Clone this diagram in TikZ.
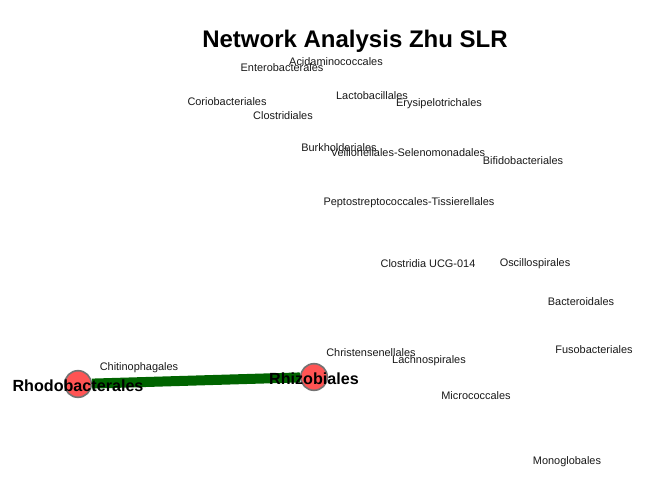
\documentclass[tikz,border=0pt]{standalone}
\usepackage{fontspec}
\setmainfont{Liberation Sans}
\definecolor{vertexred}{HTML}{FF5454}
\definecolor{edgegreen}{HTML}{006400}
\tikzset{
  taxon/.style={inner sep=0pt,font=\fontsize{8.2}{9}\selectfont,text=black!90},
  hub/.style={draw=black!55,line width=1.2pt,fill=vertexred,circle,minimum size=20pt,inner sep=0pt},
  hublabel/.style={inner sep=0pt,font=\fontsize{12.1}{13}\selectfont\bfseries},
}
\begin{document}
\begin{tikzpicture}[x=0.75pt,y=-0.75pt]
\useasboundingbox[fill=white] (0,0) rectangle (672,480);
\node[font=\fontsize{18}{20}\selectfont\bfseries] (title) at (355,41) {Network Analysis Zhu SLR};
% small vertices
\node[taxon] (acid) at (336,62) {Acidaminococcales};
\node[taxon] (entero) at (282,68) {Enterobacterales};
\node[taxon] (corio) at (227,102) {Coriobacteriales};
\node[taxon] (clostr) at (283,116) {Clostridiales};
\node[taxon] (lacto) at (372,96) {Lactobacillales};
\node[taxon] (erysi) at (439,104) {Erysipelotrichales};
\node[taxon] (burk) at (339,148) {Burkholderiales};
\node[taxon] (veil) at (408,153) {Veillonellales-Selenomonadales};
\node[taxon] (bifi) at (523,161) {Bifidobacteriales};
\node[taxon] (pepto) at (409,203) {Peptostreptococcales-Tissierellales};
\node[taxon] (ucg) at (428,264) {Clostridia UCG-014};
\node[taxon] (oscill) at (535,264) {Oscillospirales};
\node[taxon] (bactero) at (581,302) {Bacteroidales};
\node[taxon] (fuso) at (594,350) {Fusobacteriales};
\node[taxon] (christ) at (371,353) {Christensenellales};
\node[taxon] (lachno) at (429,361) {Lachnospirales};
\node[taxon] (chitin) at (139,368) {Chitinophagales};
\node[taxon] (micro) at (476,396) {Micrococcales};
\node[taxon] (mono) at (567,462) {Monoglobales};
% connected vertices
\node[hub] (rhodo) at (78,384) {};
\node[hub] (rhizo) at (314,377) {};
\draw[edgegreen,line width=7.5pt] (rhodo) -- (rhizo);
\node[hublabel] (rhodolab) at ([yshift=-1pt]rhodo.center) {Rhodobacterales};
\node[hublabel] (rhizolab) at ([yshift=-1pt]rhizo.center) {Rhizobiales};
\end{tikzpicture}
\end{document}
